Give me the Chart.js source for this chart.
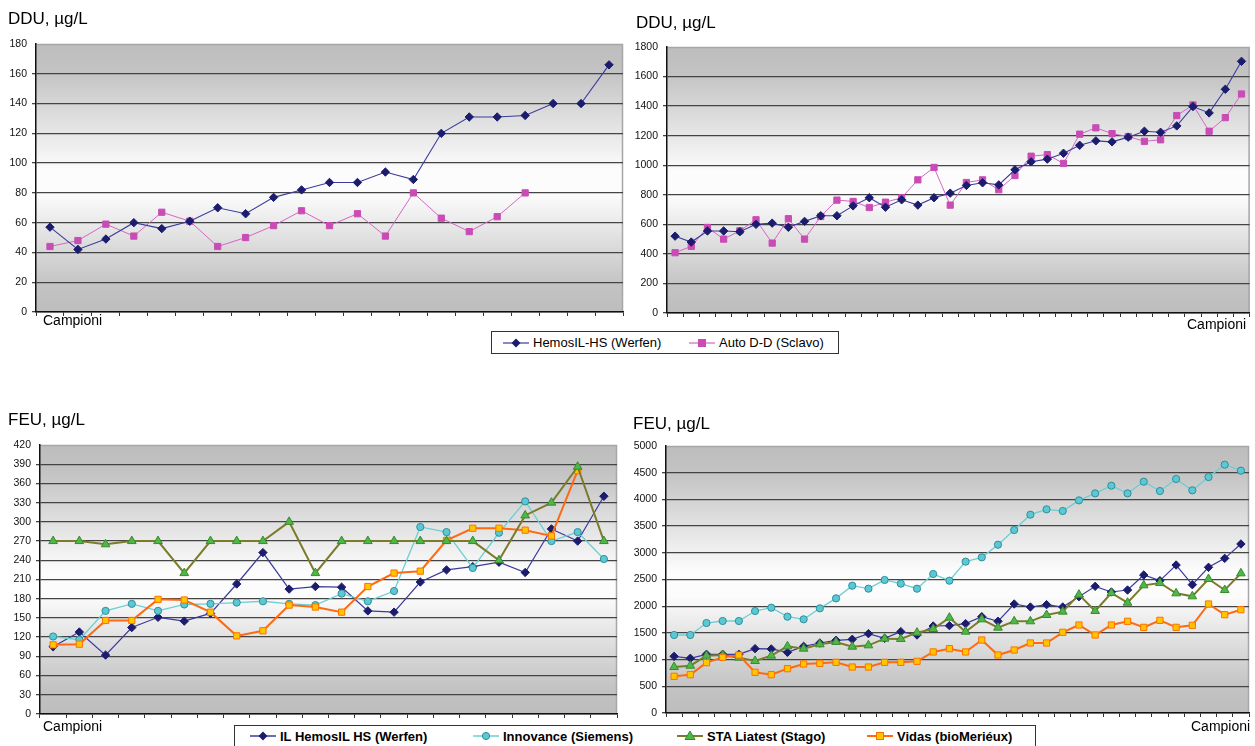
<!DOCTYPE html>
<html>
<head>
<meta charset="utf-8">
<script src="https://cdn.jsdelivr.net/npm/chart.js@4.4.1/dist/chart.umd.min.js"></script>
<style>
  html, body { margin: 0; padding: 0; background: #fff; }
  body { width: 1255px; height: 746px; position: relative; overflow: hidden;
         font-family: "Liberation Sans", Arial, sans-serif; color: #000; }
  canvas { position: absolute; }
  .title { position: absolute; font-size: 17px; line-height: 20px; white-space: nowrap; }
  .xname { position: absolute; font-size: 14px; line-height: 16px; white-space: nowrap; }
  .legend { position: absolute; border: 1.5px solid #333; background: #fff; box-sizing: border-box; }
  .item { position: absolute; top: 0; height: 100%; display: flex; align-items: center; white-space: nowrap; }
  .item svg { margin-right: 4px; }
  .legend.top .item { font-size: 13px; }
  .legend.bottom .item { font-size: 13px; font-weight: bold; }
</style>
</head>
<body>
<canvas id="c1" width="630" height="340" style="left:0;top:0"></canvas>
<canvas id="c2" width="625" height="340" style="left:630px;top:0"></canvas>
<canvas id="c3" width="630" height="346" style="left:0;top:400px"></canvas>
<canvas id="c4" width="625" height="346" style="left:630px;top:400px"></canvas>

<div class="title" style="left:8px;top:9px">DDU, &micro;g/L</div>
<div class="title" style="left:636px;top:13px">DDU, &micro;g/L</div>
<div class="title" style="left:8px;top:410px">FEU, &micro;g/L</div>
<div class="title" style="left:633px;top:414px">FEU, &micro;g/L</div>

<div class="xname" style="left:43px;top:312px">Campioni</div>
<div class="xname" style="left:1187px;top:316px">Campioni</div>
<div class="xname" style="left:43px;top:718px">Campioni</div>
<div class="xname" style="left:1191px;top:718px">Campioni</div>

<div id="legTop" class="legend top" style="left:491px;top:331px;width:348px;height:23px"></div>
<div id="legBottom" class="legend bottom" style="left:234px;top:725px;width:802px;height:22px"></div>

<script>
// ---- sample numbers (x categories) ----
const samples21 = [1,2,3,4,5,6,7,8,9,10,11,12,13,14,15,16,17,18,19,20,21];
const samples22 = [1,2,3,4,5,6,7,8,9,10,11,12,13,14,15,16,17,18,19,20,21,22];
const samples36 = [1,2,3,4,5,6,7,8,9,10,11,12,13,14,15,16,17,18,19,20,21,22,23,24,25,26,27,28,29,30,31,32,33,34,35,36];

// ---- DDU, low range ----
const dduLowHemosil = [57,42,49,60,56,61,70,66,77,82,87,87,94,89,120,131,131,132,140,140,166];
const dduLowAutoDD  = [44,48,59,51,67,61,44,50,58,68,58,66,51,80,63,54,64,80,null,null,null];

// ---- DDU, full range ----
const dduHighHemosil = [520,480,555,555,550,600,608,580,620,658,658,725,780,716,766,730,780,811,
                        863,881,867,969,1023,1041,1081,1135,1165,1158,1190,1230,1223,1266,1397,1354,1514,1703];
const dduHighAutoDD  = [408,451,579,500,556,631,473,638,500,653,764,755,714,750,780,901,985,730,
                        883,901,834,930,1061,1072,1012,1210,1253,1214,1194,1162,1172,1336,1408,1230,1322,1482];

// ---- FEU, low range ----
const feuLowHemosil   = [105,128,92,135,151,145,157,203,252,195,199,198,161,159,206,225,230,237,221,289,270,340];
const feuLowInnovance = [121,116,161,172,161,171,172,174,176,172,170,188,176,192,292,284,228,283,332,270,284,242];
const feuLowLiatest   = [270,270,265,270,270,220,270,270,270,300,220,270,270,270,270,270,270,240,310,330,386,270];
const feuLowVidas     = [108,109,146,146,179,178,159,122,130,170,167,159,199,220,223,271,290,290,287,278,380,null];

// ---- FEU, full range ----
const feuHighHemosil   = [1061,1024,1099,1099,1099,1205,1199,1136,1248,1311,1361,1380,1486,1398,1523,1461,1629,1636,
                          1673,1804,1717,2041,1985,2029,1985,2178,2372,2266,2303,2584,2478,2771,2403,2728,2896,3165];
const feuHighInnovance = [1461,1461,1685,1723,1723,1910,1972,1804,1754,1960,2147,2384,2328,2491,2422,2328,2603,2478,
                          2834,2915,3152,3427,3714,3814,3783,3982,4113,4257,4113,4332,4157,4382,4170,4419,4650,4538];
const feuHighLiatest   = [861,886,1074,1086,1036,974,1074,1248,1205,1286,1330,1242,1267,1392,1386,1504,1573,1785,
                          1523,1754,1598,1717,1717,1835,1898,2216,1910,2247,2066,2391,2434,2241,2185,2509,2303,2615];
const feuHighVidas     = [687,718,943,1042,1086,762,718,830,918,930,949,861,861,949,949,968,1143,1205,
                          1143,1367,1086,1180,1311,1311,1511,1648,1461,1648,1717,1604,1735,1604,1642,2041,1841,1935];

// ---- axis ranges: [min, max, step] ----
const axisDduLow  = [0, 180, 20];
const axisDduHigh = [0, 1800, 200];
const axisFeuLow  = [0, 420, 30];
const axisFeuHigh = [0, 5000, 500];

// ---- series names ----
const nameHemosilTop = 'HemosIL-HS (Werfen)';
const nameAutoDD = 'Auto D-D (Sclavo)';
const nameHemosil = 'IL HemosIL HS (Werfen)';
const nameInnovance = 'Innovance (Siemens)';
const nameLiatest = 'STA Liatest (Stago)';
const nameVidas = 'Vidas (bioMeriéux)';

// ---- styles ----
const ST = {
  hemos: { line: '#3b3b9e', fill: '#1c1c6e', edge: '#1c1c6e', shape: 'rectRot', r: 4.2 },
  auto:  { line: '#d467c4', fill: '#c94cb5', edge: '#c94cb5', shape: 'rect', r: 4.4 },
  innov: { line: '#6ccfd3', fill: '#5cc8d3', edge: '#2e8f9c', shape: 'circle', r: 3.6 },
  sta:   { line: '#7b7b2a', fill: '#4db848', edge: '#3a8a2e', shape: 'triangle', r: 5 },
  vidas: { line: '#ff6a10', fill: '#ffc600', edge: '#ff7000', shape: 'rect', r: 4.4 }
};

function ds(label, data, st, width) {
  return {
    label, data,
    borderColor: st.line, borderWidth: width,
    pointStyle: st.shape, pointRadius: st.r, pointHoverRadius: st.r,
    pointBackgroundColor: st.fill, pointBorderColor: st.edge, pointBorderWidth: 1,
    tension: 0, spanGaps: false, fill: false
  };
}

// plot background: grey - white - grey vertical band, with light outer frame
const bandBackground = {
  id: 'bandBackground',
  beforeDraw(chart) {
    const a = chart.chartArea, ctx = chart.ctx;
    const g = ctx.createLinearGradient(0, a.top, 0, a.bottom);
    g.addColorStop(0, '#bdbdbd');
    g.addColorStop(0.1, '#c3c3c3');
    g.addColorStop(0.47, '#fcfcfc');
    g.addColorStop(0.56, '#fcfcfc');
    g.addColorStop(0.9, '#c3c3c3');
    g.addColorStop(1, '#bdbdbd');
    ctx.save();
    ctx.fillStyle = g;
    ctx.fillRect(a.left, a.top, a.right - a.left, a.bottom - a.top);
    ctx.strokeStyle = '#a6a6a6';
    ctx.lineWidth = 1.5;
    ctx.beginPath();
    ctx.moveTo(a.left, a.top + 0.5);
    ctx.lineTo(a.right - 0.5, a.top + 0.5);
    ctx.lineTo(a.right - 0.5, a.bottom);
    ctx.stroke();
    ctx.restore();
  }
};

function makeChart(id, labels, datasets, axis, pad, yWidth) {
  const [ymin, ymax, ystep] = axis;
  return new Chart(document.getElementById(id), {
    type: 'line',
    data: { labels, datasets },
    plugins: [bandBackground],
    options: {
      responsive: false, animation: false, devicePixelRatio: 1,
      layout: { padding: pad },
      plugins: { legend: { display: false }, tooltip: { enabled: false } },
      scales: {
        x: {
          type: 'category', offset: true,
          grid: { offset: true, drawOnChartArea: false, drawTicks: true, tickLength: 4, color: '#333' },
          border: { display: true, color: '#111', width: 1.5 },
          ticks: { display: false },
          afterFit(s) { s.height = 10; }
        },
        y: {
          min: ymin, max: ymax,
          grid: {
            drawTicks: true, tickLength: 4,
            color: c => (c.tick && c.tick.value === ymax) ? 'rgba(0,0,0,0)' : '#444',
            lineWidth: 1.3
          },
          border: { display: true, color: '#111', width: 1.5 },
          ticks: {
            stepSize: ystep, padding: 5, color: '#111',
            callback: v => String(v),
            font: { family: '"Liberation Sans", Arial, sans-serif', size: 10.5 }
          },
          afterFit(s) { s.width = yWidth; }
        }
      }
    }
  });
}

makeChart('c1', samples21, [
  ds(nameHemosilTop, dduLowHemosil, ST.hemos, 1.1),
  ds(nameAutoDD, dduLowAutoDD, ST.auto, 1)
], axisDduLow, { top: 44, right: 7, bottom: 18, left: 0 }, 36);

makeChart('c2', samples36, [
  ds(nameHemosilTop, dduHighHemosil, ST.hemos, 1.1),
  ds(nameAutoDD, dduHighAutoDD, ST.auto, 1)
], axisDduHigh, { top: 47, right: 3, bottom: 17, left: 0 }, 37);

makeChart('c3', samples22, [
  ds(nameLiatest, feuLowLiatest, ST.sta, 2),
  ds(nameVidas, feuLowVidas, ST.vidas, 2),
  ds(nameInnovance, feuLowInnovance, ST.innov, 1.3),
  ds(nameHemosil, feuLowHemosil, ST.hemos, 1.2)
], axisFeuLow, { top: 45, right: 13, bottom: 22, left: 0 }, 40);

makeChart('c4', samples36, [
  ds(nameInnovance, feuHighInnovance, ST.innov, 1.3),
  ds(nameVidas, feuHighVidas, ST.vidas, 2),
  ds(nameLiatest, feuHighLiatest, ST.sta, 2),
  ds(nameHemosil, feuHighHemosil, ST.hemos, 1.2)
], axisFeuHigh, { top: 46, right: 2, bottom: 23, left: 0 }, 36);

// ---- legend boxes ----
function markerSvg(st, width) {
  const c = 13, y = 6;
  let m = '';
  if (st.shape === 'rectRot') m = `<polygon points="${c},${y-4.5} ${c+4.5},${y} ${c},${y+4.5} ${c-4.5},${y}" fill="${st.fill}"/>`;
  else if (st.shape === 'rect') m = `<rect x="${c-3.5}" y="${y-3.5}" width="7" height="7" fill="${st.fill}" stroke="${st.edge}" stroke-width="1"/>`;
  else if (st.shape === 'circle') m = `<circle cx="${c}" cy="${y}" r="3.6" fill="${st.fill}" stroke="${st.edge}" stroke-width="1"/>`;
  else m = `<polygon points="${c},${y-5} ${c+5},${y+3.5} ${c-5},${y+3.5}" fill="${st.fill}" stroke="${st.edge}" stroke-width="1"/>`;
  return `<svg width="26" height="12" viewBox="0 0 26 12"><line x1="0" y1="6" x2="26" y2="6" stroke="${st.line}" stroke-width="${width}"/>${m}</svg>`;
}
function addItem(boxId, left, st, width, text) {
  const d = document.createElement('div');
  d.className = 'item';
  d.style.left = left + 'px';
  d.innerHTML = markerSvg(st, width) + '<span>' + text + '</span>';
  document.getElementById(boxId).appendChild(d);
}
addItem('legTop', 11, ST.hemos, 1.2, nameHemosilTop);
addItem('legTop', 197, ST.auto, 1.2, nameAutoDD);
addItem('legBottom', 15, ST.hemos, 1.5, nameHemosil);
addItem('legBottom', 238, ST.innov, 1.5, nameInnovance);
addItem('legBottom', 442, ST.sta, 2, nameLiatest);
addItem('legBottom', 632, ST.vidas, 2, nameVidas);
</script>
</body>
</html>
